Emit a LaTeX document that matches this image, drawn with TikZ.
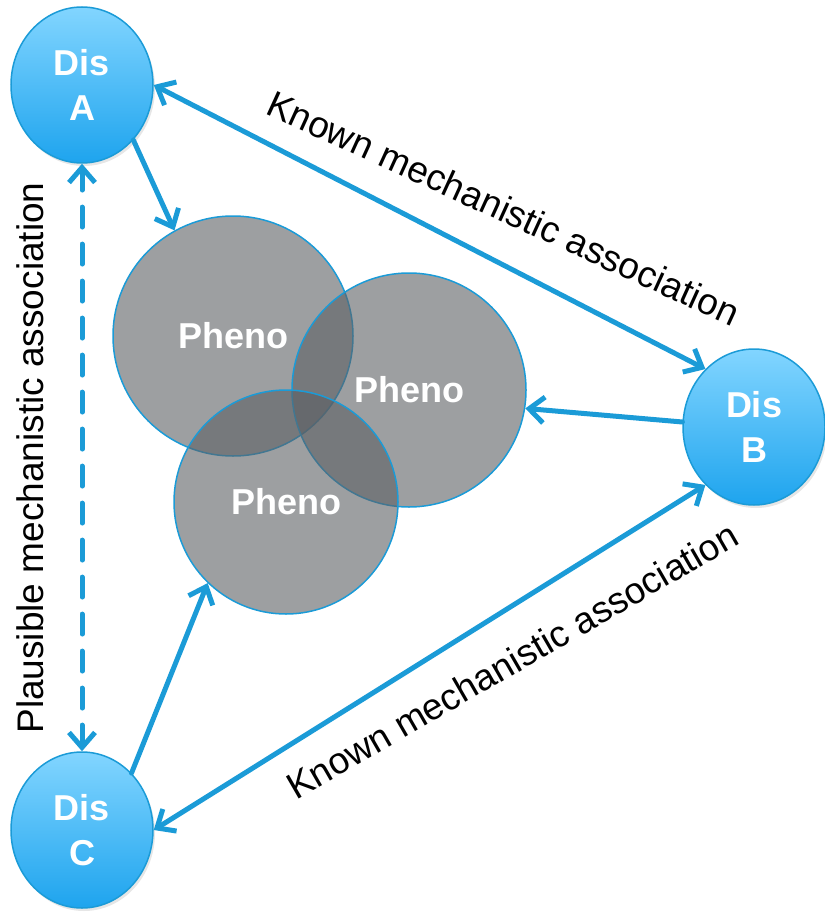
\documentclass[tikz,border=0pt]{standalone}
\usepackage{fontspec}
\setmainfont{Liberation Sans}
\usetikzlibrary{arrows.meta,shapes.geometric,shadows}

\definecolor{linkblue}{RGB}{27,155,215}
\definecolor{distop}{RGB}{130,213,255}
\definecolor{disbottom}{RGB}{30,164,238}
\definecolor{phenogray}{RGB}{92,95,99}

\tikzstyle{disnode}=[ellipse,minimum width=142pt,minimum height=156pt,draw=linkblue,line width=1.5pt,top color=distop,bottom color=disbottom,text=white,align=center,font=\bfseries\fontsize{36}{45}\selectfont,drop shadow={opacity=0.2,shadow xshift=2pt,shadow yshift=-3pt}]
\tikzstyle{phenonode}=[circle,draw=linkblue,line width=1.5pt,fill=phenogray,fill opacity=0.6,text opacity=1,text=white,font=\bfseries\fontsize{36}{40}\selectfont]
\tikzstyle{assoctext}=[font=\fontsize{37}{44}\selectfont,inner sep=0pt,anchor=base]
\tikzstyle{linkarrow}=[draw=linkblue,line width=5pt,line cap=round,-{Straight Barb[length=15pt,width=26pt]}]
\tikzstyle{botharrow}=[linkarrow,{Straight Barb[length=15pt,width=26pt]}-{Straight Barb[length=15pt,width=26pt]}]
\tikzstyle{plausiblearrow}=[botharrow,dash pattern=on 20pt off 17pt]

\begin{document}
\begin{tikzpicture}[x=1pt,y=-1pt]
      \useasboundingbox (0,0) rectangle (824,912);
      %disease nodes
      \foreach \nodename/\x/\y in {A/82/85, B/754/427, C/82/830}
      {
        \node[disnode] (\nodename) at (\x,\y) {Dis\\\nodename};
      };
      %phenotype circles
      \foreach \nodename/\x/\y/\size in {p1/233/336/240pt, p2/409/390/234pt, p3/286/502/224pt}
      {
        \node[phenonode,minimum size=\size] (\nodename) at (\x,\y) {Pheno};
      };
      %arrows
      \path
      \foreach \startnode/\endnode/\kind in {A.east/B.130/botharrow, C.east/B.230/botharrow,
        A.south/C.north/plausiblearrow, A.-47/p1.119/linkarrow, B.176/p2.-9/linkarrow,
        C.49/p3.226/linkarrow}
      {
        (\startnode) edge[\kind] (\endnode)
      };
      %texts
      \node[assoctext,rotate=-24.5] (knownab) at (498,220) {Known mechanistic association};
      \node[assoctext,rotate=30] (knowncb) at (519,672) {Known mechanistic association};
      \node[assoctext,rotate=90] (plausibleac) at (43,458) {Plausible mechanistic association};
\end{tikzpicture}
\end{document}
